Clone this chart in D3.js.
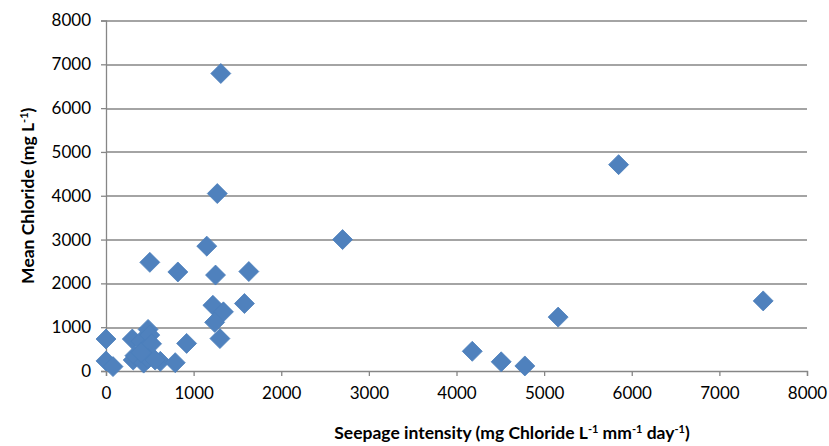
<!DOCTYPE html>
<html>
<head>
<meta charset="utf-8">
<script src="https://cdn.jsdelivr.net/npm/d3@7"></script>
<style>
  body { margin: 0; background: #fff; }
  text { font-family: Lato, "Open Sans", sans-serif; fill: #000; }
</style>
</head>
<body>
<div id="chart"></div>
<script>
// values
var seepage = [0, 0, 80, 300, 310, 330, 400, 440, 480, 500, 520, 430, 480, 620, 790, 920, 400, 560,
               500, 1150, 820, 1250, 1630, 1580, 1220, 1340, 1240, 1300, 1310, 1270,
               2700, 4180, 4510, 4780, 5160, 5850, 7500]
var chloride = [730, 230, 100, 730, 250, 350, 680, 500, 950, 820, 620, 180, 280, 220, 190, 630, 420, 250,
                2480, 2850, 2260, 2190, 2270, 1540, 1500, 1350, 1110, 740, 6790, 4050,
                3000, 450, 210, 115, 1230, 4710, 1600]
var xTicks = [0, 1000, 2000, 3000, 4000, 5000, 6000, 7000, 8000]
var yTicks = [0, 1000, 2000, 3000, 4000, 5000, 6000, 7000, 8000]

var W = 829, H = 446
var margin = {top: 20.5, right: 22, bottom: 75, left: 106}
var width = W - margin.left - margin.right,
    height = H - margin.top - margin.bottom

var svg = d3.select("#chart")
  .append("svg")
    .attr("width", W)
    .attr("height", H)

var g = svg.append("g")
    .attr("transform", "translate(" + margin.left + "," + margin.top + ")")

var x = d3.scaleLinear().domain([0, 8000]).range([0, width])
var y = d3.scaleLinear().domain([0, 8000]).range([height, 0])

var lineColor = "#868686"

// horizontal gridlines
g.selectAll(".grid")
  .data(yTicks.slice(1))
  .enter()
  .append("line")
    .attr("class", "grid")
    .attr("x1", 0)
    .attr("x2", width)
    .attr("y1", function(d){ return Math.round(y(d)) + 0.5 })
    .attr("y2", function(d){ return Math.round(y(d)) + 0.5 })
    .style("stroke", lineColor)
    .style("stroke-width", 1.3)

// y axis
var yAxis = g.append("g")
    .call(d3.axisLeft(y).tickValues(yTicks).tickSize(5).tickPadding(10).tickFormat(d3.format("d")))
yAxis.select(".domain").style("stroke", lineColor).style("stroke-width", 1.3)
yAxis.selectAll(".tick line").style("stroke", lineColor).style("stroke-width", 1.3)
yAxis.selectAll(".tick text").style("font-size", "17px")

// x axis
var xAxis = g.append("g")
    .attr("transform", "translate(0," + height + ")")
    .call(d3.axisBottom(x).tickValues(xTicks).tickSize(5).tickPadding(11).tickFormat(d3.format("d")))
xAxis.select(".domain").style("stroke", lineColor).style("stroke-width", 1.3)
xAxis.selectAll(".tick line").style("stroke", lineColor).style("stroke-width", 1.3)
xAxis.selectAll(".tick text").style("font-size", "17px")

// markers
var points = seepage.map(function(d, i){ return {x: d, y: chloride[i]} })
var diamond = d3.symbol().type(d3.symbolSquare).size(200)

g.selectAll(".pt")
  .data(points)
  .enter()
  .append("path")
    .attr("class", "pt")
    .attr("d", diamond)
    .attr("transform", function(d){
      return "translate(" + x(d.x) + "," + y(d.y) + ") rotate(45)" })
    .style("fill", "#4F81BD")
    .style("stroke", "#4A7EBB")
    .style("stroke-width", 0.75)

// axis titles with superscripts
function addTitle(sel, parts){
  parts.forEach(function(p){
    var t = sel.append("tspan").text(p[0])
    if (p[1]) {
      t.attr("baseline-shift", "super").style("font-size", "11px")
    }
  })
}

var xt = svg.append("text")
    .attr("x", 512)
    .attr("y", 439)
    .attr("text-anchor", "middle")
    .style("font-size", "17.5px")
    .style("font-weight", "bold")
addTitle(xt, [["Seepage intensity (mg Chloride L"], ["-1", 1], [" mm"], ["-1", 1], [" day"], ["-1", 1], [")"]])

var yt = svg.append("text")
    .attr("transform", "translate(34," + (margin.top + height / 2) + ") rotate(-90)")
    .attr("text-anchor", "middle")
    .style("font-size", "17.5px")
    .style("font-weight", "bold")
addTitle(yt, [["Mean Chloride (mg L"], ["-1", 1], [")"]])
</script>
</body>
</html>
